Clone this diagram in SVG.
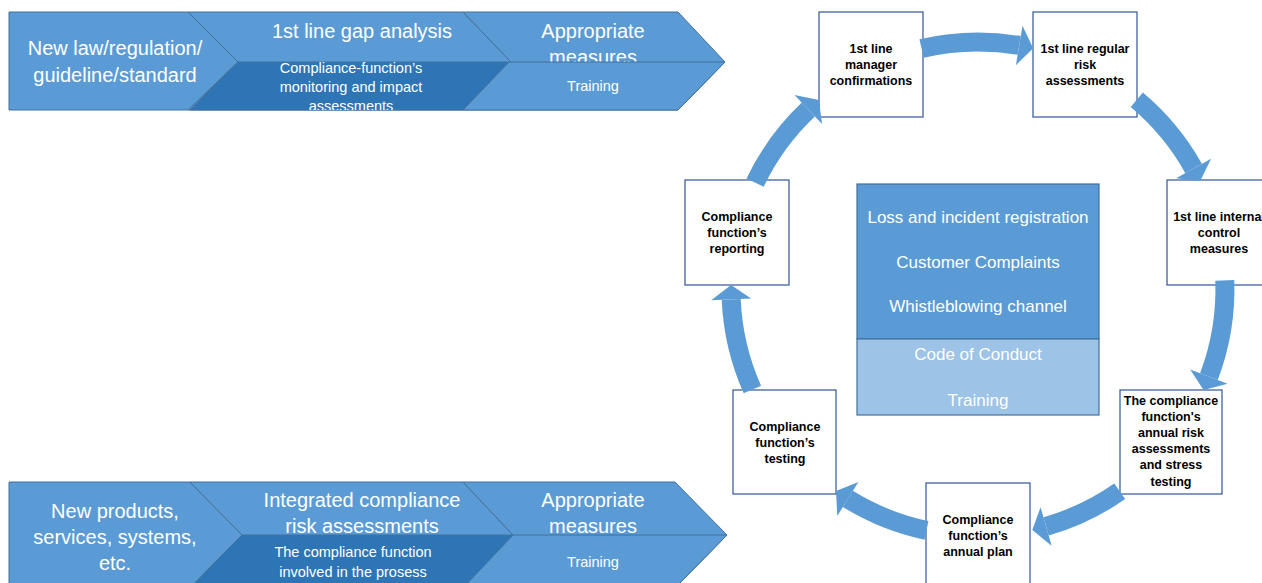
<svg xmlns="http://www.w3.org/2000/svg" width="1262" height="583" viewBox="0 0 1262 583">
  <defs>
    <style>
      .band { fill: #5b9bd5; stroke: #41719c; stroke-width: 1; stroke-linejoin: miter; }
      .dark { fill: #2e75b6; stroke: #41719c; stroke-width: 1; }
      .big { font-family: "Liberation Sans", Arial, sans-serif; font-size: 20px; fill: #ffffff; text-anchor: middle; }
      .sub { font-family: "Liberation Sans", Arial, sans-serif; font-size: 14.5px; fill: #ffffff; text-anchor: middle; }
      .box { fill: #ffffff; stroke: #2f5597; stroke-width: 1.2; }
      .lbl { font-family: "Liberation Sans", Arial, sans-serif; font-size: 12.5px; font-weight: bold; fill: #000000; text-anchor: middle; }
      .mid { font-family: "Liberation Sans", Arial, sans-serif; font-size: 17px; fill: #ffffff; text-anchor: middle; }
      .arc { fill: none; stroke: #5b9bd5; stroke-width: 19; stroke-linecap: butt; }
      .head { fill: #5b9bd5; }
    </style>
    <clipPath id="clipTop">
      <rect x="0" y="0" width="1262" height="110"/>
    </clipPath>
  </defs>
  <rect width="1262" height="583" fill="#ffffff"/>

  <!-- Upper process banner -->
  <g id="banner-law">
    <polygon class="band" points="9,12 188,12 238,62 188,110 9,110"/>
    <text class="big" x="115" y="55">New law/regulation/</text>
    <text class="big" x="115" y="82">guideline/standard</text>
  </g>
  <g id="banner-gap">
    <polygon class="band" points="188,12 463,12 511,62 463,110 188,110 238,62"/>
    <text class="big" x="362" y="38">1st line gap analysis</text>
  </g>
  <g id="banner-measures-top">
    <polygon class="band" points="463,12 678,12 725,62 678,110 463,110 511,62"/>
    <text class="big" x="593" y="38">Appropriate</text>
    <text class="big" x="593" y="64">measures</text>
  </g>
  <g id="banner-monitoring">
    <polygon class="dark" points="238,62 509,62 463,110 190,110"/>
    <g clip-path="url(#clipTop)">
      <text class="sub" x="351" y="73">Compliance-function’s</text>
      <text class="sub" x="351" y="92">monitoring and impact</text>
      <text class="sub" x="351" y="111">assessments</text>
    </g>
  </g>
  <g id="banner-training-top">
    <polygon class="band" points="509,62 725,62 678,110 463,110"/>
    <text class="sub" x="593" y="91">Training</text>
  </g>

  <!-- Lower process banner -->
  <g id="banner-products">
    <polygon class="band" points="9,482 190,482 242,535 190,588 9,588"/>
    <text class="big" x="115" y="518">New products,</text>
    <text class="big" x="115" y="544">services, systems,</text>
    <text class="big" x="115" y="570">etc.</text>
  </g>
  <g id="banner-integrated">
    <polygon class="band" points="190,482 463,482 513,535 463,588 190,588 242,535"/>
    <text class="big" x="362" y="507">Integrated compliance</text>
    <text class="big" x="362" y="533">risk assessments</text>
  </g>
  <g id="banner-measures-bottom">
    <polygon class="band" points="463,482 675,482 727,535 675,588 463,588 513,535"/>
    <text class="big" x="593" y="507">Appropriate</text>
    <text class="big" x="593" y="533">measures</text>
  </g>
  <g id="banner-involved">
    <polygon class="dark" points="242,535 513,535 463,588 190,588"/>
    <text class="sub" x="353" y="557">The compliance function</text>
    <text class="sub" x="353" y="577">involved in the prosess</text>
  </g>
  <g id="banner-training-bottom">
    <polygon class="band" points="513,535 727,535 675,588 463,588"/>
    <text class="sub" x="593" y="567">Training</text>
  </g>

  <!-- Central panel -->
  <g id="center-panel">
    <rect x="857" y="184" width="242" height="155" fill="#5b9bd5" stroke="#41719c" stroke-width="1.2"/>
    <rect x="857" y="339" width="242" height="76" fill="#9dc3e6" stroke="#41719c" stroke-width="1.2"/>
    <text class="mid" x="978" y="223">Loss and incident registration</text>
    <text class="mid" x="978" y="268">Customer Complaints</text>
    <text class="mid" x="978" y="312">Whistleblowing channel</text>
    <text class="mid" x="978" y="360">Code of Conduct</text>
    <text class="mid" x="978" y="406">Training</text>
  </g>

  <!-- Cycle nodes -->
  <g id="node-manager">
    <rect class="box" x="819" y="12" width="104" height="105"/>
    <text class="lbl" x="871" y="53">1st line</text>
    <text class="lbl" x="871" y="69">manager</text>
    <text class="lbl" x="871" y="85">confirmations</text>
  </g>
  <g id="node-risk">
    <rect class="box" x="1033" y="12" width="104" height="105"/>
    <text class="lbl" x="1085" y="53">1st line regular</text>
    <text class="lbl" x="1085" y="69">risk</text>
    <text class="lbl" x="1085" y="85">assessments</text>
  </g>
  <g id="node-control">
    <rect class="box" x="1167" y="180" width="104" height="105"/>
    <text class="lbl" x="1219" y="221">1st line internal</text>
    <text class="lbl" x="1219" y="237">control</text>
    <text class="lbl" x="1219" y="253">measures</text>
  </g>
  <g id="node-annual-risk">
    <rect class="box" x="1120" y="390" width="102" height="104"/>
    <text class="lbl" x="1171" y="405">The compliance</text>
    <text class="lbl" x="1171" y="421">function's</text>
    <text class="lbl" x="1171" y="437">annual risk</text>
    <text class="lbl" x="1171" y="453">assessments</text>
    <text class="lbl" x="1171" y="469">and stress</text>
    <text class="lbl" x="1171" y="486">testing</text>
  </g>
  <g id="node-plan">
    <rect class="box" x="926" y="483" width="104" height="110"/>
    <text class="lbl" x="978" y="524">Compliance</text>
    <text class="lbl" x="978" y="540">function’s</text>
    <text class="lbl" x="978" y="556">annual plan</text>
  </g>
  <g id="node-testing">
    <rect class="box" x="733" y="390" width="103" height="104"/>
    <text class="lbl" x="785" y="431">Compliance</text>
    <text class="lbl" x="785" y="447">function’s</text>
    <text class="lbl" x="785" y="463">testing</text>
  </g>
  <g id="node-reporting">
    <rect class="box" x="685" y="180" width="104" height="105"/>
    <text class="lbl" x="737" y="221">Compliance</text>
    <text class="lbl" x="737" y="237">function’s</text>
    <text class="lbl" x="737" y="253">reporting</text>
  </g>

  <!-- Curved block arrows around the cycle (centre 978,289, radius 247) -->
  <g id="connectors">
    <path class="arc" d="M 921.6 48.5 A 247 247 0 0 1 1019.2 45.5"/>
    <polygon class="head" points="1022.5,25.7 1033.2,48.2 1015.9,65.2"/>

    <path class="arc" d="M 1136.8 99.8 A 247 247 0 0 1 1193.6 168.5"/>
    <polygon class="head" points="1211.1,158.7 1200.2,181.1 1176.1,178.2"/>

    <path class="arc" d="M 1224.8 280.4 A 247 247 0 0 1 1208.9 376.7"/>
    <polygon class="head" points="1227.6,383.8 1203.5,389.9 1190.2,369.6"/>

    <path class="arc" d="M 1119.7 491.3 A 247 247 0 0 1 1046.1 526.4"/>
    <polygon class="head" points="1051.6,545.7 1032.3,530.0 1040.6,507.2"/>

    <path class="arc" d="M 926.5 530.4 A 247 247 0 0 1 847.8 498.9"/>
    <polygon class="head" points="837.3,515.9 836.0,491.1 858.4,481.9"/>

    <path class="arc" d="M 752.4 389.5 A 247 247 0 0 1 731.2 299.3"/>
    <polygon class="head" points="711.2,300.2 731.0,285.1 751.2,298.5"/>

    <path class="arc" d="M 755.1 182.7 A 247 247 0 0 1 808.3 109.5"/>
    <polygon class="head" points="794.5,95.0 819.0,100.0 822.0,124.1"/>
  </g>
</svg>
